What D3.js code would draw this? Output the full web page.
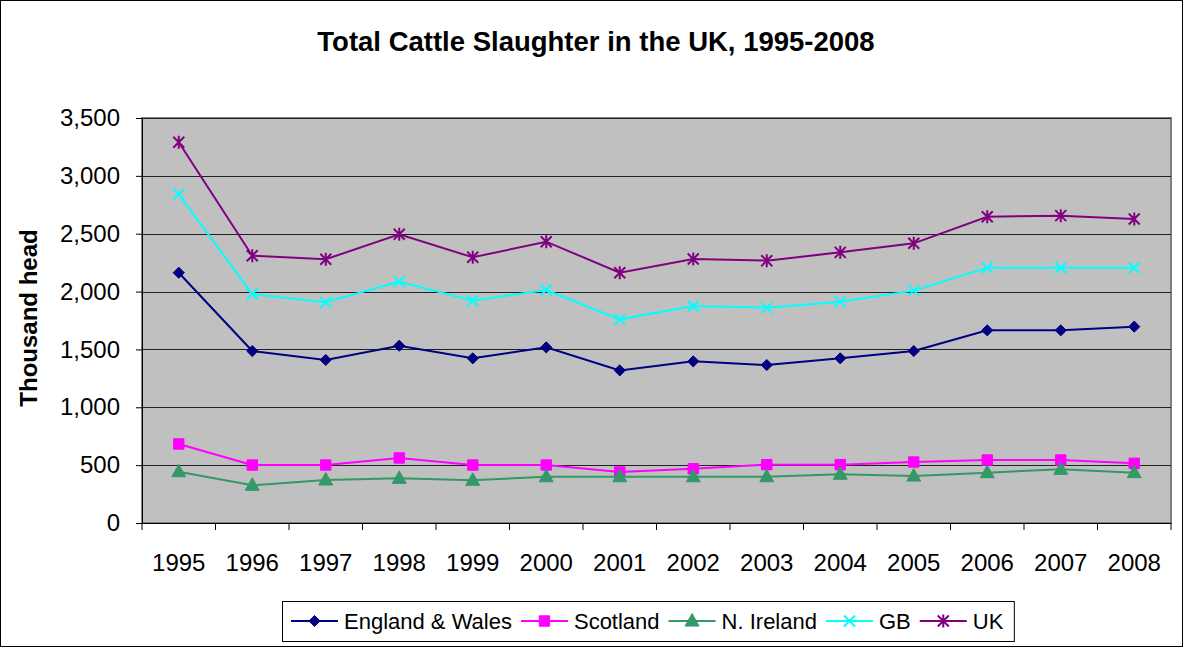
<!DOCTYPE html>
<html>
<head>
<meta charset="utf-8">
<script src="https://cdn.jsdelivr.net/npm/d3@7"></script>
<style>
  body { margin: 0; background: #fff; }
  svg { font-family: "Liberation Sans", Arial, sans-serif; }
</style>
</head>
<body>
<script>
// data (thousand head)
var years = ["1995","1996","1997","1998","1999","2000","2001","2002","2003","2004","2005","2006","2007","2008"];
var englandWales = [2163,1486,1409,1532,1423,1518,1319,1397,1365,1423,1486,1665,1665,1697];
var scotland     = [683,501,501,562,501,501,441,469,504,504,527,544,544,516];
var nIreland     = [443,326,372,386,369,400,400,400,400,421,406,435,464,435];
var gb           = [2841,1979,1907,2086,1921,2014,1760,1875,1861,1913,2008,2206,2206,2206];
var uk           = [3290,2310,2279,2495,2296,2431,2163,2281,2267,2339,2417,2647,2656,2627];
var yTicks = [0,500,1000,1500,2000,2500,3000,3500];

var seriesNames = ["England & Wales","Scotland","N. Ireland","GB","UK"];
var seriesValues = [englandWales, scotland, nIreland, gb, uk];
var seriesColors = ["#000080","#FF00FF","#339966","#00FFFF","#800080"];
var seriesMarkers = ["diamond","square","triangle","x","star"];

var W = 1184, H = 648;
var plot = {left: 142, top: 118, right: 1171, bottom: 523};

var svg = d3.select("body").append("svg")
    .attr("width", W)
    .attr("height", H);

// outer chart border
svg.append("rect")
    .attr("x", 0.5).attr("y", 0.5)
    .attr("width", W - 2).attr("height", H - 2)
    .attr("fill", "#fff")
    .attr("stroke", "#000")
    .attr("stroke-width", 1);

var x = d3.scaleBand().domain(years).range([plot.left, plot.right]);
var y = d3.scaleLinear().domain([0, 3500]).range([plot.bottom, plot.top]);

// plot area
svg.append("rect")
    .attr("x", plot.left).attr("y", plot.top)
    .attr("width", plot.right - plot.left)
    .attr("height", plot.bottom - plot.top)
    .attr("fill", "#C0C0C0")
    .attr("stroke", "#808080")
    .attr("stroke-width", 2);

// gridlines
svg.append("g")
    .selectAll("line")
    .data(yTicks.filter(function(d){ return d > 0; }))
    .enter()
    .append("line")
      .attr("x1", plot.left).attr("x2", plot.right)
      .attr("y1", function(d){ return Math.round(y(d)) + 0.5; })
      .attr("y2", function(d){ return Math.round(y(d)) + 0.5; })
      .attr("stroke", "#222")
      .attr("stroke-width", 1);

// y axis
var yAxis = svg.append("g")
    .attr("transform", "translate(" + plot.left + ",0)")
    .call(d3.axisLeft(y).tickValues(yTicks).tickSize(6).tickPadding(16).tickFormat(d3.format(",")));
yAxis.select(".domain").attr("stroke", "#000");
yAxis.selectAll(".tick line").attr("stroke", "#000");
yAxis.selectAll("text")
    .style("font-size", "24px")
    .attr("fill", "#000");

// x axis: ticks on category boundaries
var xAxis = svg.append("g")
    .attr("transform", "translate(0," + plot.bottom + ")")
    .call(d3.axisBottom(x).tickSize(0).tickPadding(31));
xAxis.select(".domain").attr("stroke", "#000");
xAxis.selectAll("text")
    .style("font-size", "24px")
    .attr("fill", "#000");
xAxis.selectAll(".edge")
    .data(years.concat(["end"]))
    .enter()
    .append("line")
      .attr("class", "edge")
      .attr("x1", function(d, i){ return plot.left + i * x.step(); })
      .attr("x2", function(d, i){ return plot.left + i * x.step(); })
      .attr("y1", 0).attr("y2", 7)
      .attr("stroke", "#000");

// markers
function markerPath(type, s) {
  if (type == "diamond") return d3.symbol().type(d3.symbolDiamond2 || d3.symbolDiamond).size(s * s * 0.55)();
  if (type == "square") return d3.symbol().type(d3.symbolSquare).size(s * s * 0.75)();
  if (type == "triangle") return "M0," + (-s * 0.62) + "L" + (s * 0.58) + "," + (s * 0.42) + "L" + (-s * 0.58) + "," + (s * 0.42) + "Z";
  var r = s / 2;
  if (type == "x") return "M" + -r + "," + -r + "L" + r + "," + r + "M" + -r + "," + r + "L" + r + "," + -r;
  // star: x plus vertical stroke
  return "M" + -r + "," + -r + "L" + r + "," + r + "M" + -r + "," + r + "L" + r + "," + -r + "M0," + (-r - 1) + "L0," + (r + 1);
}

var lineGen = d3.line()
    .x(function(d, i){ return x(years[i]) + x.bandwidth() / 2; })
    .y(function(d){ return y(d); });

seriesValues.forEach(function(vals, si) {
  var g = svg.append("g");
  g.append("path")
      .datum(vals)
      .attr("d", lineGen)
      .attr("fill", "none")
      .attr("stroke", seriesColors[si])
      .attr("stroke-width", 2);

  var stroked = seriesMarkers[si] == "x" || seriesMarkers[si] == "star";
  g.selectAll("path.mk")
      .data(vals)
      .enter()
      .append("path")
        .attr("class", "mk")
        .attr("transform", function(d, i){ return "translate(" + (x(years[i]) + x.bandwidth() / 2) + "," + y(d) + ")"; })
        .attr("d", markerPath(seriesMarkers[si], stroked ? 11 : 12))
        .attr("fill", stroked ? "none" : seriesColors[si])
        .attr("stroke", seriesColors[si])
        .attr("stroke-width", stroked ? 2 : 1);
});

// title
svg.append("text")
    .attr("x", 596)
    .attr("y", 51)
    .attr("text-anchor", "middle")
    .style("font-size", "27.5px")
    .style("font-weight", "bold")
    .text("Total Cattle Slaughter in the UK, 1995-2008");

// y axis label
svg.append("text")
    .attr("transform", "translate(37,318) rotate(-90)")
    .attr("text-anchor", "middle")
    .style("font-size", "24px")
    .style("font-weight", "bold")
    .text("Thousand head");

// legend
var legend = svg.append("g");
var legendBox = legend.append("rect")
    .attr("x", 282.5).attr("y", 601.5)
    .attr("height", 40)
    .attr("fill", "#fff")
    .attr("stroke", "#000");

var lx = 291, ly = 621;
seriesNames.forEach(function(name, si) {
  var item = legend.append("g");
  item.append("line")
      .attr("x1", lx).attr("x2", lx + 47)
      .attr("y1", ly).attr("y2", ly)
      .attr("stroke", seriesColors[si])
      .attr("stroke-width", 2);
  var stroked = seriesMarkers[si] == "x" || seriesMarkers[si] == "star";
  item.append("path")
      .attr("transform", "translate(" + (lx + 23.5) + "," + ly + ")")
      .attr("d", markerPath(seriesMarkers[si], stroked ? 11 : 12))
      .attr("fill", stroked ? "none" : seriesColors[si])
      .attr("stroke", seriesColors[si])
      .attr("stroke-width", stroked ? 2 : 1);
  var t = item.append("text")
      .attr("x", lx + 53)
      .attr("y", ly + 8)
      .style("font-size", "22px")
      .text(name);
  lx = lx + 53 + t.node().getComputedTextLength() + 9;
});
legendBox.attr("width", lx - 282.5 + 2);
</script>
</body>
</html>
